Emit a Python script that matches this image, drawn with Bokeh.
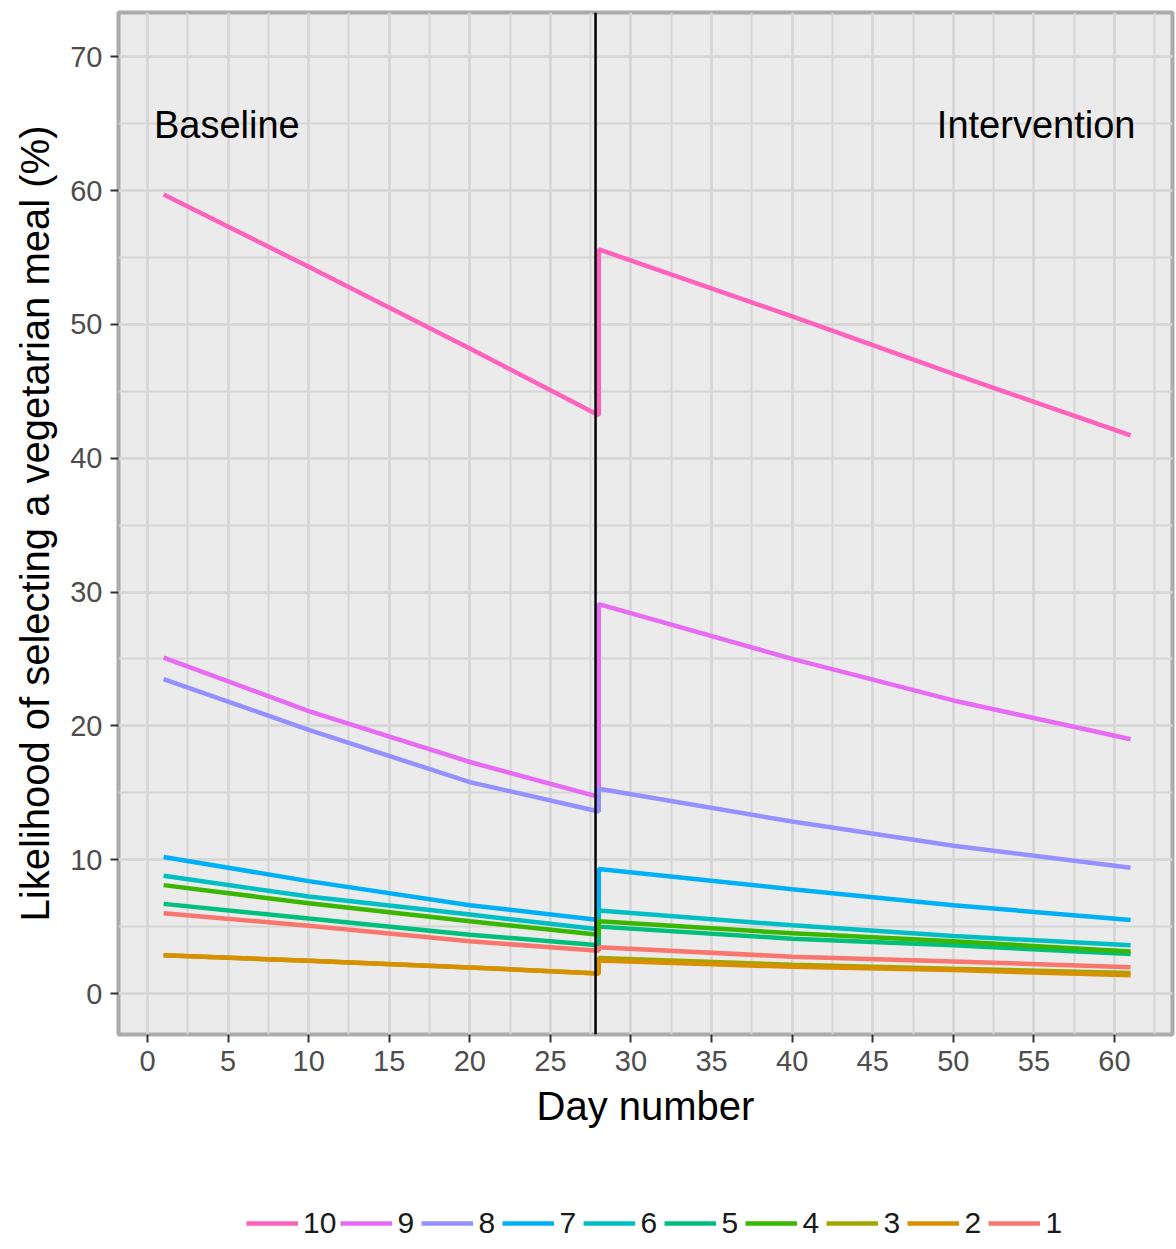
from bokeh.plotting import figure
from bokeh.layouts import column
from bokeh.models import Span, Legend, LegendItem, SingleIntervalTicker, Label, Range1d
from bokeh.embed import file_html
from bokeh.resources import INLINE

# ---- data ----
days_base = [1, 10, 20, 28]
days_int = [28, 40, 50, 61]

groups = ["10", "9", "8", "7", "6", "5", "4", "3", "2", "1"]

base_10 = [59.7, 54.3, 48.2, 43.2]
int_10 = [55.6, 50.6, 46.3, 41.7]
base_9 = [25.1, 21.1, 17.3, 14.7]
int_9 = [29.1, 25.0, 21.9, 19.0]
base_8 = [23.5, 19.7, 15.8, 13.6]
int_8 = [15.3, 12.85, 11.05, 9.4]
base_7 = [10.2, 8.4, 6.6, 5.5]
int_7 = [9.3, 7.8, 6.6, 5.5]
base_6 = [8.8, 7.25, 5.9, 4.8]
int_6 = [6.2, 5.1, 4.3, 3.6]
base_5 = [6.7, 5.6, 4.4, 3.6]
int_5 = [5.0, 4.1, 3.6, 2.95]
base_4 = [8.1, 6.75, 5.4, 4.4]
int_4 = [5.4, 4.5, 3.9, 3.15]
base_3 = [2.86, 2.45, 1.95, 1.5]
int_3 = [2.65, 2.15, 1.85, 1.54]
base_2 = [2.86, 2.45, 1.95, 1.5]
int_2 = [2.46, 2.0, 1.75, 1.37]
base_1 = [6.0, 5.07, 3.9, 3.2]
int_1 = [3.45, 2.75, 2.4, 1.96]

colors = ["#FF62BC", "#E76BF3", "#9590FF", "#00B0F6", "#00BFC4",
          "#00BF7D", "#39B600", "#A3A500", "#D89000", "#F8766D"]

base_vals = [base_10, base_9, base_8, base_7, base_6, base_5, base_4, base_3, base_2, base_1]
int_vals = [int_10, int_9, int_8, int_7, int_6, int_5, int_4, int_3, int_2, int_1]

intervention_day = 27.8
label_y = 64.9

FONT = "Liberation Sans"

p = figure(frame_width=1054, frame_height=1022,
           x_range=Range1d(-1.8, 63.6), y_range=Range1d(-3.06, 73.3),
           output_backend="svg", toolbar_location=None,
           min_border_left=118, min_border_right=4, min_border_top=12,
           min_border_bottom=116)

p.background_fill_color = "#EBEBEB"
p.border_fill_color = "white"
p.outline_line_color = "#ABABAB"
p.outline_line_width = 4

p.xaxis.ticker = SingleIntervalTicker(interval=5, num_minor_ticks=2)
p.yaxis.ticker = SingleIntervalTicker(interval=10, num_minor_ticks=2)

p.grid.grid_line_color = "#D6D6D6"
p.grid.grid_line_width = 2.5
p.grid.minor_grid_line_color = "#D6D6D6"
p.grid.minor_grid_line_width = 2

p.axis.axis_line_color = None
p.axis.major_tick_line_color = "#333333"
p.axis.major_tick_line_width = 2
p.axis.major_tick_out = 8
p.axis.major_tick_in = 0
p.axis.minor_tick_line_color = None
p.axis.major_label_text_font = FONT
p.axis.major_label_text_font_size = "29px"
p.axis.major_label_text_color = "#4D4D4D"
p.axis.major_label_standoff = 8
p.axis.axis_label_text_font = FONT
p.axis.axis_label_text_font_size = "40px"
p.axis.axis_label_text_font_style = "normal"
p.axis.axis_label_text_color = "black"
p.axis.axis_label_standoff = 10
p.xaxis.axis_label = "Day number"
p.yaxis.axis_label = "Likelihood of selecting a vegetarian meal (%)"

for g, c, b, iv in zip(groups, colors, base_vals, int_vals):
    p.line(days_base + days_int, b + iv, line_color=c, line_width=4.5)

p.add_layout(Span(location=intervention_day, dimension="height",
                  line_color="black", line_width=2.5))

p.add_layout(Label(x=0.4, y=label_y, text="Baseline", text_font=FONT,
                   text_font_size="38px", text_baseline="middle", text_align="left",
                   text_color="black"))
p.add_layout(Label(x=61.3, y=label_y, text="Intervention", text_font=FONT,
                   text_font_size="38px", text_baseline="middle", text_align="right",
                   text_color="black"))

# ---- legend strip (series drawn outside its visible range, only the keys show) ----
leg = figure(width=1172, height=99, x_range=Range1d(-1000, -999), y_range=Range1d(-1000, -999),
             output_backend="svg", toolbar_location=None,
             x_axis_type=None, y_axis_type=None,
             min_border_left=0, min_border_right=0, min_border_top=0, min_border_bottom=0)
leg.outline_line_color = None
leg.grid.visible = False
leg.background_fill_color = "white"

items = []
for g, c, b, iv in zip(groups, colors, base_vals, int_vals):
    r = leg.line(days_base + days_int, b + iv, line_color=c, line_width=4.5)
    items.append(LegendItem(label=g, renderers=[r]))

legend = Legend(items=items, orientation="horizontal", location=(128, 9),
                glyph_width=52, glyph_height=30, spacing=4, label_standoff=5,
                padding=4, margin=0, border_line_color=None,
                background_fill_alpha=0,
                label_text_font=FONT, label_text_font_size="30px",
                label_text_color="#1A1A1A")
leg.add_layout(legend, "center")

open("out.html", "w").write(file_html(column(p, leg, spacing=0), INLINE))
